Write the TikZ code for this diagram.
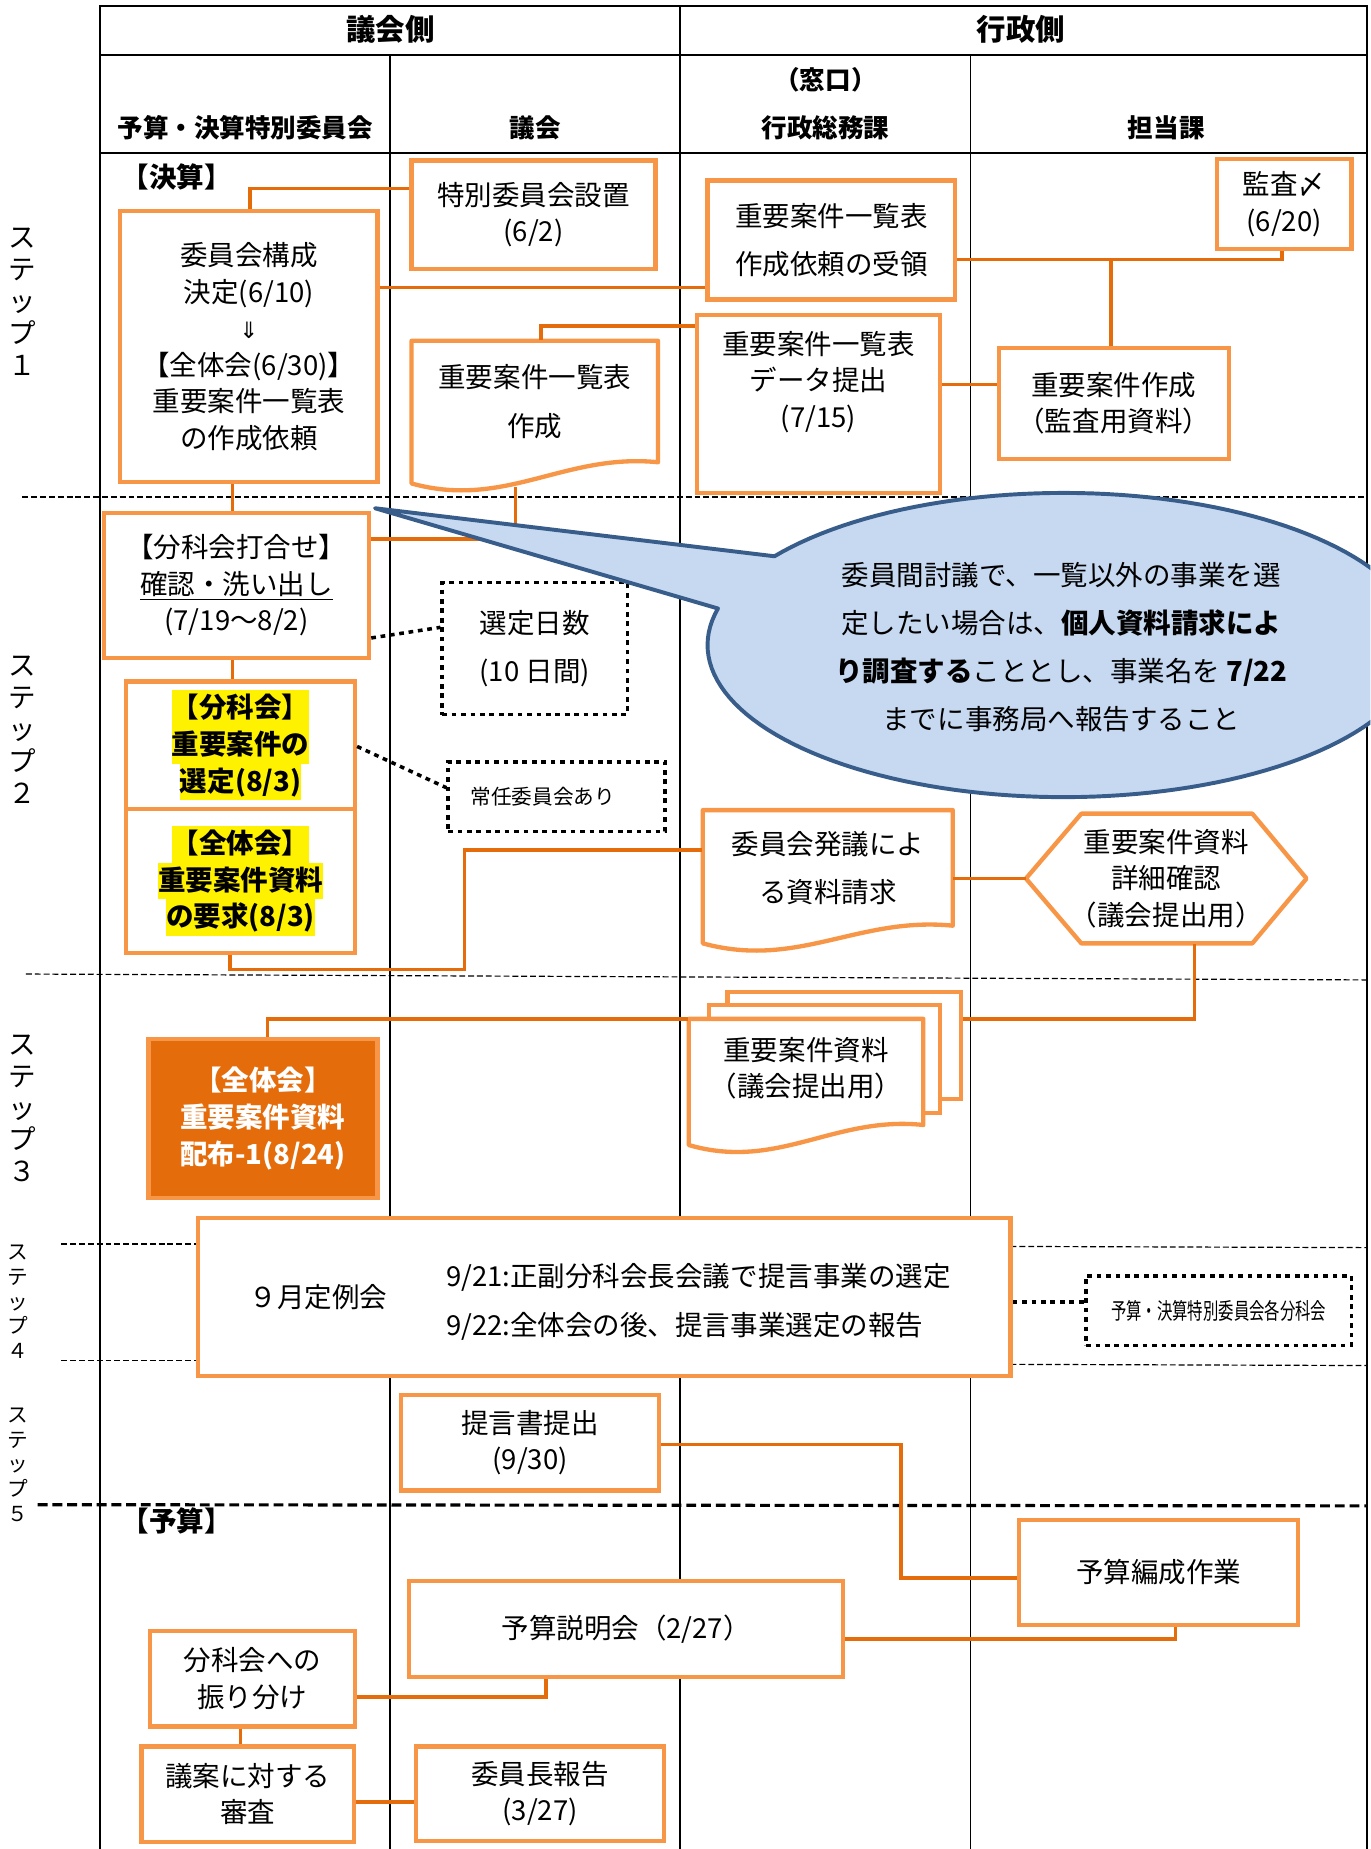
\documentclass[tikz,border=0pt]{standalone}
\usepackage{fontspec}
\usepackage{graphicx}
\setmainfont{Noto Sans CJK JP}
\newfontfamily\dejavu{DejaVu Sans}
\definecolor{boxor}{HTML}{F79646}
\definecolor{lineor}{HTML}{E46C0A}
\definecolor{callfill}{HTML}{C6D9F1}
\definecolor{callline}{HTML}{385D8A}
\newcommand{\hlt}[1]{{\setlength{\fboxsep}{0pt}\colorbox{yellow}{\rule[-4.6pt]{0pt}{18.6pt}#1}}}
\newcommand{\docshape}[5]{\draw[docline] (#1,#2) -- (#3,#2) -- (#3,#4) .. controls ({#1+0.62*(#3-#1)},{#4-8}) and ({#1+0.38*(#3-#1)},{#5+22}) .. (#1,#5) -- cycle;}
\begin{document}
\begin{tikzpicture}[x=0.6pt, y=-0.6pt,
 boxfont/.style={font=\fontsize{14}{18.6}\selectfont},
 widefont/.style={font=\fontsize{14}{24.6}\selectfont},
 bx/.style n args={4}{at={({(#1+#3)/2},{(#2+#4)/2})}, minimum width={(#3-#1)*0.6pt}, minimum height={(#4-#2)*0.6pt}},
 obox/.style={draw=boxor, line width=2.2pt, fill=white, inner sep=0pt, align=center, boxfont},
 txt/.style={inner sep=0pt, align=center, boxfont},
 conn/.style={draw=lineor, line width=1.8pt},
 dotbox/.style={draw=black, line width=1.8pt, dash pattern=on 2.4pt off 2.4pt, fill=white, inner sep=0pt, align=center, boxfont},
 dotconn/.style={draw=black, line width=1.8pt, dash pattern=on 2.4pt off 2.4pt},
 tabline/.style={draw=black, line width=1pt},
 sepline/.style={draw=black, line width=0.6pt, dash pattern=on 3pt off 1.5pt},
 hdA/.style={font=\fontsize{15}{18}\selectfont\bfseries},
 hdB/.style={font=\fontsize{13}{16}\selectfont\bfseries},
 steplab/.style={inner sep=0pt, align=center, font=\fontsize{14}{16.2}\selectfont},
 steplabs/.style={inner sep=0pt, align=center, font=\fontsize{10.5}{12.6}\selectfont},
 docline/.style={draw=boxor, line width=2.2pt, fill=white, line join=round},
]
\useasboundingbox (0,0) rectangle (1162,1568);
\clip (0,0) rectangle (1162,1568);

% ---------------- table ----------------
\draw[tabline] (85,5) rectangle (1159,1575);
\draw[tabline] (85,47) -- (1159,47);
\draw[tabline] (85,130) -- (1159,130);
\draw[tabline] (331,47) -- (331,1575);
\draw[tabline] (577,5) -- (577,1575);
\draw[tabline] (823,47) -- (823,1575);

\node[hdA] (hgikai) at (331,25) {議会側};
\node[hdA] (hgyosei) at (866,25) {行政側};
\node[hdB] (hyosan) at (208,108) {予算・決算特別委員会};
\node[hdB] (hgikai2) at (454,108) {議会};
\node[hdB] (hmado) at (700,68) {（窓口）};
\node[hdB] (hsomu) at (700,108) {行政総務課};
\node[hdB] (htanto) at (989,108) {担当課};

% ---------------- step labels ----------------
\node[steplab] (s1) at (19,256) {ス\\テ\\ッ\\プ\\１};
\node[steplab] (s2) at (19,619) {ス\\テ\\ッ\\プ\\２};
\node[steplab] (s3) at (19,940) {ス\\テ\\ッ\\プ\\３};
\node[steplabs] (s4) at (15,1104) {ス\\テ\\ッ\\プ\\４};
\node[steplabs] (s5) at (15,1242) {ス\\テ\\ッ\\プ\\５};

% ---------------- separators ----------------
\draw[sepline] (19,421.5) -- (1159,421.5);
\draw[sepline] (22,826) -- (1159,831);
\draw[sepline] (52,1055) -- (168,1055);
\draw[sepline] (52,1154) -- (168,1154);
\draw[sepline] (857,1057) -- (1159,1058);
\draw[sepline] (857,1157) -- (1159,1158);
\draw[draw=black, line width=1.6pt, dash pattern=on 5pt off 2.5pt] (32,1276) -- (1159,1277);

% ---------------- labels ----------------
\node[font=\fontsize{14}{16}\selectfont\bfseries] (kessan) at (150,150) {【決算】};
\node[font=\fontsize{14}{16}\selectfont\bfseries] (yosan) at (150,1290) {【予算】};

% ---------------- step 1 ----------------
\node[obox, bx={349}{136}{556}{228}] (toku) {特別委員会設置\\(6/2)};
\node[obox, bx={102}{179}{320}{409}] (kosei) {委員会構成\\決定(6/10)\\{\dejavu\fontsize{11.5}{18.6}\selectfont ⇓}\\【全体会(6/30)】\\重要案件一覧表\\の作成依頼};
\docshape{349}{289}{558}{392}{410}
\node[txt, widefont, bx={349}{289}{558}{392}] (ichiran) {重要案件一覧表\\作成};
\coordinate (ichiranbot) at (437,413);
\node[obox, widefont, bx={600}{153}{810}{254}] (juryo) {重要案件一覧表\\作成依頼の受領};
\node[obox, bx={1032}{135}{1146}{211}] (kansa) {監査〆\\(6/20)};
\node[obox, bx={591}{267}{797}{418}] (data) {};
\node[txt] (dataT) at (694,324) {重要案件一覧表\\データ提出\\(7/15)};
\node[obox, bx={847}{295}{1042}{389}] (kansaku) {重要案件作成\\（監査用資料）};

% ---------------- step 2 ----------------
\node[obox, bx={88}{435}{313}{558}] (buchi) {【分科会打合せ】\\\underline{確認・洗い出し}\\(7/19～8/2)};
\node[dotbox, widefont, bx={375}{494}{532}{606}] (sentei) {選定日数\\(10 日間)};
\node[obox, bx={107}{578}{301}{686}, font=\fontsize{14}{18.6}\selectfont\bfseries] (bunka) {\hlt{【分科会】}\\\hlt{重要案件の}\\\hlt{選定(8/3)}};
\node[obox, bx={107}{686}{301}{808}, font=\fontsize{14}{18.6}\selectfont\bfseries] (zentai) {\hlt{【全体会】}\\\hlt{重要案件資料}\\\hlt{の要求(8/3)}};
\node[dotbox, bx={380}{646}{564}{705}, font=\fontsize{10.5}{12}\selectfont] (jonin) {常任委員会あり\hspace*{14pt}};
\docshape{596}{687}{808}{785}{800}
\node[txt, widefont, bx={596}{687}{808}{785}] (hatsugi) {委員会発議によ\\る資料請求};
\draw[docline] (870,745) -- (917,690) -- (1062,690) -- (1108,745) -- (1062,800) -- (917,800) -- cycle;
\node[txt, bx={870}{690}{1108}{800}] (hex) {重要案件資料\\詳細確認\\（議会提出用）};

% ---------------- step 3 ----------------
\node[obox, fill=lineor, text=white, font=\fontsize{14}{18.6}\selectfont\bfseries, bx={126}{881}{320}{1016}] (haifu) {【全体会】\\重要案件資料\\配布-1(8/24)};
\node[obox, bx={617}{841}{815}{932}] (shiryoB) {};
\node[obox, bx={601}{852}{797}{944}] (shiryoM) {};
\docshape{584}{864}{783}{954}{971}
\node[txt, bx={584}{860}{783}{952}] (shiryo) {重要案件資料\\（議会提出用）};

% ---------------- step 4/5 ----------------
\node[obox, bx={168}{1033}{857}{1167}] (teirei) {};
\node[txt] (teireiA) at (270,1100) {９月定例会};
\node[txt, widefont, anchor=west, align=left] (teireiB) at (378,1104) {9/21:正副分科会長会議で提言事業の選定\\9/22:全体会の後、提言事業選定の報告};
\node[dotbox, bx={921}{1082}{1146}{1141}] (kakubunka) {\scalebox{0.68}[1]{\fontsize{11.5}{14}\selectfont 予算・決算特別委員会各分科会}};
\node[obox, bx={340}{1183}{559}{1264}] (teigen) {提言書提出\\(9/30)};

% ---------------- budget ----------------
\node[obox, bx={864}{1289}{1101}{1378}] (yosanhen) {予算編成作業};
\node[obox, bx={347}{1341}{715}{1422}] (setsumei) {予算説明会（2/27）};
\node[obox, bx={127}{1383}{301}{1464}] (furi) {分科会への\\振り分け};
\node[obox, bx={120}{1481}{300}{1562}] (shinsa) {議案に対する\\審査};
\node[obox, bx={353}{1481}{563}{1561}] (iinchou) {委員長報告\\(3/27)};

% ---------------- connectors ----------------
\draw[conn] (toku.west |- 0,160) -| (kosei.north -| 212,0);
\draw[conn] (kosei.east |- 0,244) -- (juryo.west |- 0,244);
\draw[conn] (juryo.east |- 0,220) -| (kansa.south -| 1087,0);
\draw[conn] (kansaku.north -| 942,0) -- (942,220);
\draw[conn] (ichiran.north -| 459,0) |- (data.west |- 0,276.5);
\draw[conn] (data.east |- 0,326) -- (kansaku.west |- 0,326);
\draw[conn] (kosei.south -| 197,0) -- (buchi.north -| 197,0);
\draw[conn] (ichiranbot) |- (buchi.east |- 0,457);
\draw[conn] (buchi.south -| 197,0) -- (bunka.north -| 197,0);
\draw[dotconn] (buchi.east |- 0,541) -- (sentei.west |- 0,532);
\draw[dotconn] (bunka.east |- 0,633) -- (jonin.west |- 0,668);
\draw[conn] (zentai.south -| 195,0) |- (394,822) |- (hatsugi.west |- 0,721);
\draw[conn] (hatsugi.east |- 0,745) -- (hex.west);
\draw[conn] (hex.south -| 1013,0) |- (shiryoB.east |- 0,864);
\draw[conn] (haifu.north -| 227,0) |- (shiryo.west |- 0,864);
\draw[dotconn] (teirei.east |- 0,1104) -- (kakubunka.west |- 0,1104);
\draw[conn] (teigen.east |- 0,1225) -| (764,1338) -- (yosanhen.west |- 0,1338);
\draw[conn] (setsumei.east |- 0,1390) -| (yosanhen.south -| 997,0);
\draw[conn] (furi.east |- 0,1439) -| (setsumei.south -| 463,0);
\draw[conn] (furi.south -| 204,0) -- (shinsa.north -| 204,0);
\draw[conn] (shinsa.east |- 0,1528) -- (iinchou.west |- 0,1528);

% ---------------- callout ----------------
\filldraw[fill=callfill, draw=callline, line width=2pt, line join=round]
  (318,431) -- plot[domain=215.7:553.9, samples=150] ({902+302*cos(\x)},{547+129*sin(\x)}) -- cycle;
\node[inner sep=0pt, align=center, font=\fontsize{14}{24.4}\selectfont] (calltext) at (900,549)
  {委員間討議で、一覧以外の事業を選\\定したい場合は、\textbf{個人資料請求によ}\\\textbf{り調査する}こととし、事業名を \textbf{7/22}\\までに事務局へ報告すること};
\end{tikzpicture}
\end{document}
